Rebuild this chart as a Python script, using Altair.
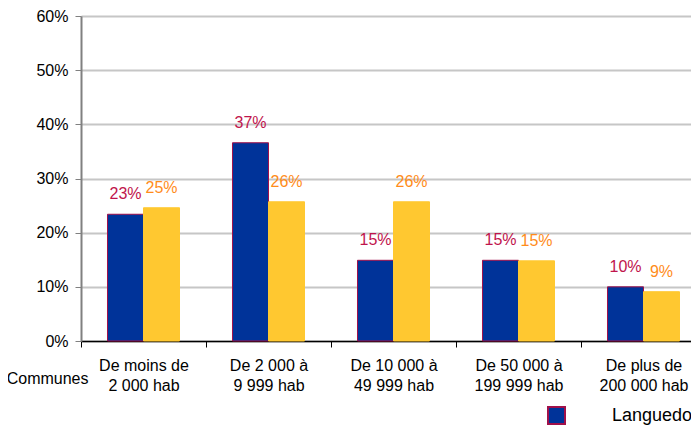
import altair as alt
import pandas as pd

categories = ["De moins de|2 000 hab", "De 2 000 à|9 999 hab", "De 10 000 à|49 999 hab",
              "De 50 000 à|199 999 hab", "De plus de|200 000 hab"]
series = ["Languedoc-Roussillon", "France métropolitaine"]
values_lr = [0.234, 0.366, 0.149, 0.149, 0.100]
values_fr = [0.246, 0.257, 0.257, 0.148, 0.091]

rows = []
for c, v in zip(categories, values_lr):
    rows.append({"cat": c, "serie": series[0], "val": v})
for c, v in zip(categories, values_fr):
    rows.append({"cat": c, "serie": series[1], "val": v})
df = pd.DataFrame(rows)

FONT = "Liberation Sans"
CRIMSON = "#A0104A"

x = alt.X("cat:N", sort=categories,
          scale=alt.Scale(paddingInner=0, paddingOuter=0),
          axis=alt.Axis(title="Communes", labelExpr="split(datum.label, '|')",
                        labelAngle=0, labelFontSize=16, labelColor="black",
                        labelFont=FONT, labelPadding=10, labelLineHeight=20,
                        tickBand="extent", tickSize=6, tickColor="black",
                        domainColor="black", domainWidth=1.5,
                        titleX=7, titleY=37, titleAlign="right", titleBaseline="middle",
                        titleFontWeight="normal", titleFontSize=16, titleFont=FONT,
                        titleColor="black", grid=False))
xoff = alt.XOffset("serie:N", sort=series,
                   scale=alt.Scale(paddingOuter=0.736, paddingInner=0))
y = alt.Y("val:Q", scale=alt.Scale(domain=[0, 0.6]),
          axis=alt.Axis(values=[0, 0.1, 0.2, 0.3, 0.4, 0.5, 0.6], format=".0%", title=None,
                        labelFontSize=16, labelFont=FONT, labelColor="black",
                        labelPadding=7, tickSize=6, tickColor="#808080",
                        domainColor="#808080", domainWidth=2,
                        gridColor="#c6c6c6", gridWidth=2))

bars = alt.Chart(df).mark_bar(strokeWidth=1).encode(
    x=x, xOffset=xoff, y=y,
    color=alt.Color("serie:N", sort=series,
                    scale=alt.Scale(domain=series, range=["#003399", "#FFC830"]),
                    legend=alt.Legend(title=None, orient="none", legendX=466, legendY=390,
                                      direction="horizontal", symbolType="square",
                                      symbolSize=289, symbolStrokeWidth=2,
                                      symbolStrokeColor=CRIMSON,
                                      labelFontSize=18, labelFont=FONT, labelColor="black",
                                      labelOffset=46, columnPadding=60)),
    stroke=alt.Stroke("serie:N", sort=series,
                      scale=alt.Scale(domain=series, range=[CRIMSON, "#FFC830"]),
                      legend=None),
)

labels = alt.Chart(df).mark_text(baseline="middle", dy=-20, fontSize=16, font=FONT).encode(
    x=x, xOffset=xoff, y=y,
    text=alt.Text("val:Q", format=".0%"),
    color=alt.condition(alt.datum.serie == series[0], alt.value("#C0144C"), alt.value("#FF8C1A")),
)

chart = alt.layer(bars, labels).properties(
    width=625, height=325,
    autosize=alt.AutoSizeParams(type="none"),
    padding={"left": 73, "top": 8, "right": -15, "bottom": 84},
).configure_view(stroke=None).configure(font=FONT)

chart.save("out.html", embed_options={"renderer": "svg", "actions": False})
